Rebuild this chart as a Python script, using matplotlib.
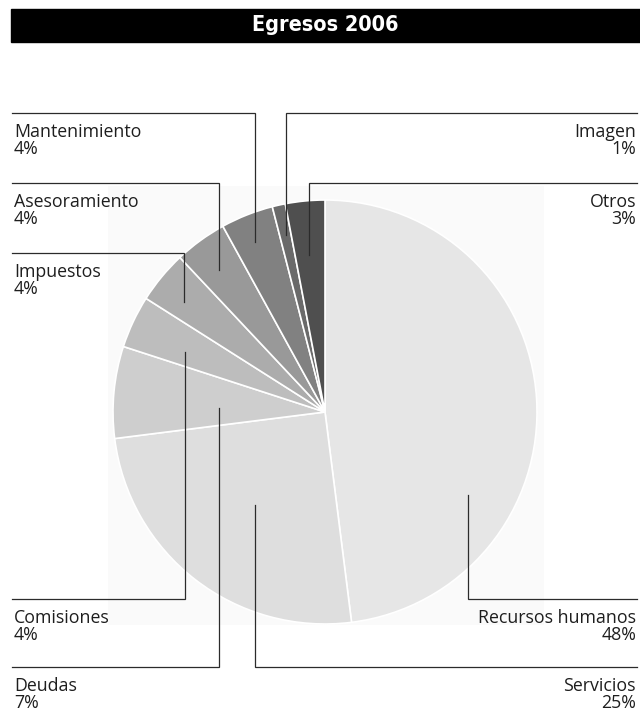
"""Egresos 2006 - pie chart with elbow leader lines (newspaper style)."""
import matplotlib

matplotlib.use("Agg")
import matplotlib.pyplot as plt  # noqa: E402
from matplotlib.patches import Rectangle  # noqa: E402

# data, clockwise from 12 o'clock
categories = ["Recursos humanos", "Servicios", "Deudas", "Comisiones", "Impuestos",
              "Asesoramiento", "Mantenimiento", "Imagen", "Otros"]
shares = [48, 25, 7, 4, 4, 4, 4, 1, 3]
pct_labels = ["48%", "25%", "7%", "4%", "4%", "4%", "4%", "1%", "3%"]
title = "Egresos 2006"

greys = ["#e6e6e6", "#dedede", "#cecece", "#bdbdbd", "#acacac",
         "#999999", "#818181", "#6a6a6a", "#4f4f4f"]

# leader layout in pixels (y from the top): vertical x, tip inside slice, elbow y, side
leaders = {
    "Recursos humanos": (468, 495, 599, "right"),
    "Servicios": (255, 505, 667, "right"),
    "Deudas": (219, 408, 667, "left"),
    "Comisiones": (185, 352, 599, "left"),
    "Impuestos": (184, 302, 253, "left"),
    "Asesoramiento": (219, 270, 183, "left"),
    "Mantenimiento": (255, 242, 113, "left"),
    "Imagen": (286, 235, 113, "right"),
    "Otros": (309, 255, 183, "right"),
}

W, H = 640, 713
LEFT_X, RIGHT_X = 12, 637
LINE = "#2b2b2b"
LABEL_FONT = ["Open Sans", "DejaVu Sans"]

fig = plt.figure(figsize=(W / 100, H / 100), dpi=100)
ax = fig.add_axes([0, 0, 1, 1])
ax.set_xlim(0, W)
ax.set_ylim(H, 0)
ax.set_aspect("equal")
ax.axis("off")

# title bar
ax.add_patch(Rectangle((11, 9), W - 11, 33, color="black", zorder=1))
ax.text(325, 25, title, color="white", ha="center", va="center",
        fontsize=15.5, fontweight="bold", fontstretch="condensed",
        family="DejaVu Sans", zorder=2)

# faint panel behind the pie
ax.add_patch(Rectangle((108, 186), 436, 439, color="#fafafa", lw=0, zorder=0))

# y axis is inverted, so clockwise on screen = counterclock in data space
ax.pie(shares, colors=greys, center=(325, 412), radius=212,
       startangle=-90, counterclock=True,
       wedgeprops=dict(edgecolor="white", linewidth=1.2))
ax.set_xlim(0, W)
ax.set_ylim(H, 0)

for name, pct in zip(categories, pct_labels):
    x, tip, yh, side = leaders[name]
    x_end = LEFT_X if side == "left" else RIGHT_X
    ax.plot([x, x, x_end], [tip, yh, yh], color=LINE, lw=0.9,
            solid_joinstyle="miter", zorder=5)
    tx = 14 if side == "left" else RIGHT_X - 1
    ha = "left" if side == "left" else "right"
    ax.text(tx, yh + 24, name, ha=ha, va="baseline", fontsize=12.8,
            color="#1e1e1e", family=LABEL_FONT)
    ax.text(tx, yh + 41.5, pct, ha=ha, va="baseline", fontsize=12.8,
            color="#1e1e1e", family=LABEL_FONT)

fig.savefig("out.png", dpi=100)
